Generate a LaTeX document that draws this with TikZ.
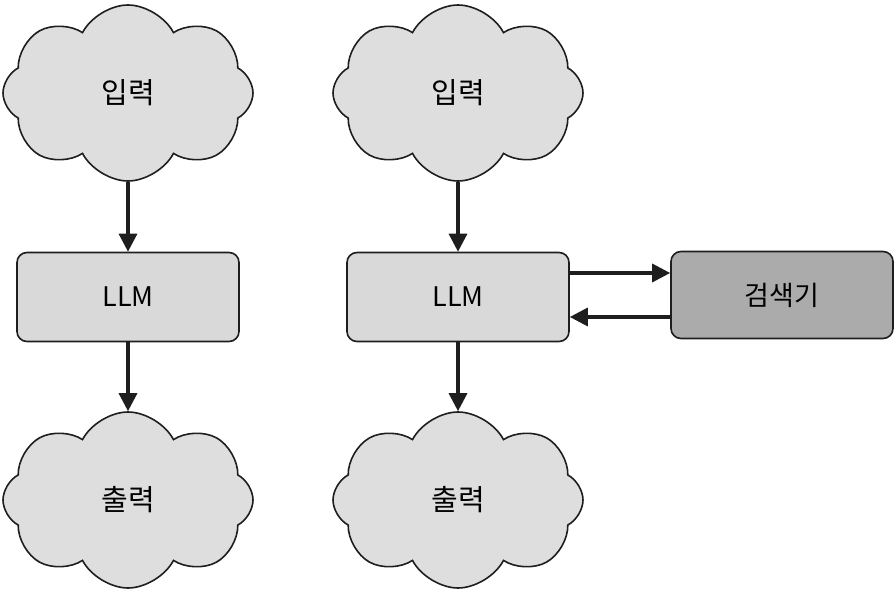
\documentclass[tikz,border=0pt]{standalone}
\usepackage{fontspec}
\setmainfont{Noto Sans CJK KR}
\usetikzlibrary{shapes.symbols,arrows.meta}
\definecolor{boxfill}{HTML}{D9D9D9}
\definecolor{retfill}{HTML}{ABABAB}
\definecolor{cloudfill}{HTML}{DEDEDE}
\definecolor{ink}{HTML}{1E1E1E}
\tikzset{
  cloudnode/.style={cloud, cloud puffs=8, cloud puff arc=125, draw=ink, line width=1.6pt,
    fill=cloudfill, minimum width=250pt, minimum height=176pt, inner sep=0pt,
    font=\fontsize{29pt}{31pt}\selectfont},
  boxnode/.style={rectangle, rounded corners=10pt, draw=ink, line width=1.6pt, fill=boxfill,
    minimum width=222pt, minimum height=89pt, inner sep=0pt, font=\fontsize{27pt}{29pt}\selectfont},
  retnode/.style={boxnode, fill=retfill, minimum height=87pt},
  arr/.style={draw=ink, line width=3.2pt, -{Triangle[length=18pt,width=18pt]}}
}
\begin{document}
\begin{tikzpicture}[x=1pt,y=-1pt]
\useasboundingbox[fill=white] (0,0) rectangle (895,593);
\node[cloudnode] (in1) at (128,93) {입력};
\node[boxnode] (llm1) at (128,297) {LLM};
\node[cloudnode] (out1) at (128,500) {출력};
\node[cloudnode] (in2) at (458,93) {입력};
\node[boxnode] (llm2) at (458,297) {LLM};
\node[cloudnode] (out2) at (458,500) {출력};
\node[retnode] (ret) at (782,295) {검색기};
\draw[arr] (in1.south) -- (llm1.north);
\draw[arr] (llm1.south) -- (out1.north);
\draw[arr] (in2.south) -- (llm2.north);
\draw[arr] (llm2.south) -- (out2.north);
\draw[arr] ([yshift=24pt]llm2.east) -- ([yshift=22pt]ret.west);
\draw[arr] ([yshift=-22pt]ret.west) -- ([yshift=-20pt]llm2.east);
\end{tikzpicture}
\end{document}
